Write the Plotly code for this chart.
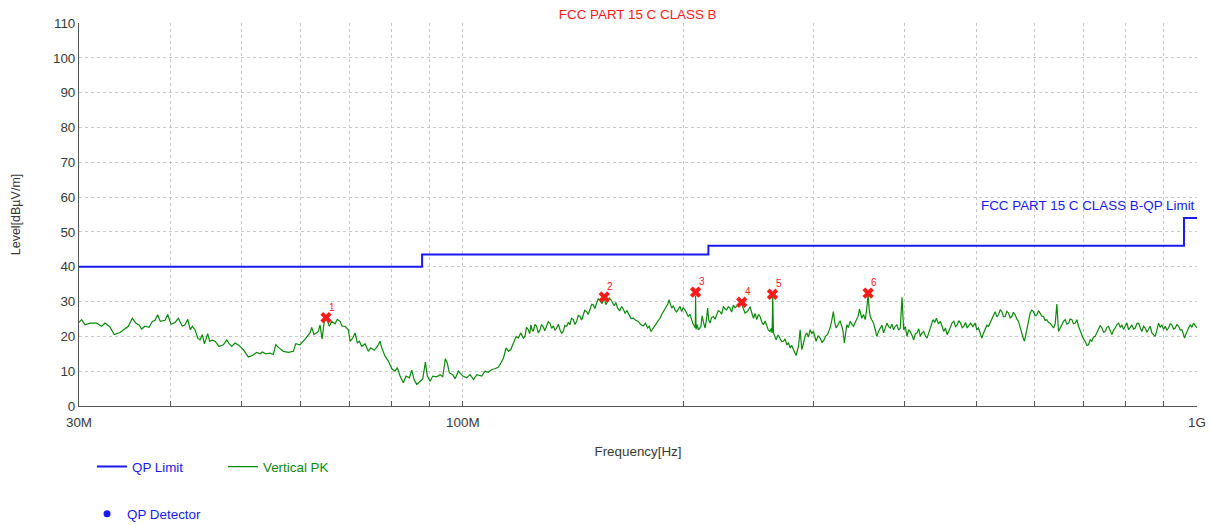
import math
import plotly.graph_objects as go

# ---------------- data ----------------
# QP limit (FCC Part 15 C, class B), step boundaries in MHz
limit_freq_mhz = [30, 88, 216, 960, 1000]
limit_level_db = [40.0, 43.5, 46.0, 54.0, 54.0]

# Vertical peak scan as (frequency MHz, level dBuV/m), one list per band
scan_30_60 = [
    (30.00, 24.0), (30.25, 24.8), (30.57, 23.3), (31.05, 23.8), (31.71, 23.8),
    (32.21, 22.9), (32.55, 23.8), (33.06, 22.7), (33.51, 20.5), (34.12, 21.1),
    (35.02, 22.9), (35.46, 25.2), (35.84, 23.8), (36.21, 23.3), (36.52, 22.1),
    (36.90, 22.9), (37.37, 22.6), (37.76, 24.3), (38.08, 24.6), (38.40, 26.2),
    (38.71, 24.3), (39.29, 24.6), (39.62, 26.3), (40.04, 23.5), (40.54, 24.0),
    (40.97, 25.2), (41.48, 22.9), (41.84, 23.3), (42.19, 24.9), (42.54, 21.9),
    (42.80, 22.9), (43.17, 21.9), (43.54, 19.5), (43.85, 19.0), (44.17, 20.5),
    (44.45, 17.9), (44.68, 19.2), (44.92, 20.8), (45.20, 18.6), (45.58, 18.9),
    (45.96, 18.6), (46.55, 17.1), (47.18, 17.6), (47.68, 19.0), (48.03, 17.9),
    (48.44, 17.1), (48.94, 18.1), (49.56, 17.4), (50.23, 16.2), (51.03, 14.1),
    (51.67, 14.5), (52.39, 15.4), (52.94, 15.0), (53.32, 15.5), (53.89, 15.0),
    (54.62, 15.2), (55.19, 14.8), (55.61, 17.6), (56.18, 16.7), (56.95, 15.7),
    (57.85, 15.4), (58.76, 15.7), (59.21, 17.9),
]

scan_60_121 = [
    (60.01, 17.6), (60.96, 19.2), (61.91, 21.0), (62.25, 22.6), (62.70, 20.5),
    (63.56, 21.4), (63.89, 23.3), (64.30, 19.2), (64.70, 23.8), (65.11, 25.5),
    (65.79, 22.9), (66.28, 24.3), (66.97, 23.6), (67.46, 24.9), (68.03, 24.3),
    (68.46, 22.9), (69.10, 22.9), (69.83, 21.9), (70.20, 18.6), (70.79, 19.5),
    (71.31, 21.0), (71.82, 18.1), (72.28, 18.6), (72.82, 17.1), (73.58, 17.9),
    (74.34, 15.7), (74.90, 16.7), (75.69, 16.0), (76.48, 17.1), (77.12, 18.6),
    (77.54, 16.7), (78.35, 14.3), (79.16, 12.9), (80.01, 10.7), (80.84, 10.0),
    (81.43, 11.0), (82.12, 8.6), (82.97, 6.7), (83.68, 8.6), (84.55, 8.1),
    (85.19, 10.3), (85.81, 7.6), (86.54, 6.2), (87.44, 7.1), (88.18, 7.8),
    (88.91, 12.6), (89.46, 8.6), (90.22, 7.1), (91.00, 8.6), (92.14, 8.4),
    (93.11, 9.0), (93.89, 8.4), (94.66, 13.6), (95.26, 12.2), (95.86, 9.5),
    (96.89, 9.0), (97.59, 7.8), (98.61, 10.0), (99.98, 8.6), (101.2, 8.1),
    (102.3, 9.0), (103.4, 7.6), (104.5, 9.0), (106.1, 8.6), (107.2, 10.0),
    (108.3, 9.7), (109.5, 10.5), (110.6, 10.7), (111.8, 11.2), (112.7, 12.4),
    (113.6, 13.8), (114.5, 16.7), (115.4, 15.7), (116.2, 16.2), (117.2, 18.1),
    (118.2, 20.0), (119.0, 19.5), (119.9, 21.0), (120.9, 19.5),
]

scan_121_245 = [
    (121.5, 20.0), (122.1, 22.6), (122.8, 21.9), (123.3, 20.8), (123.8, 23.3),
    (124.2, 22.0), (124.7, 21.4), (125.3, 23.4), (126.0, 22.9), (126.7, 21.0),
    (127.4, 21.9), (128.0, 23.4), (128.7, 22.7), (129.3, 21.6), (130.0, 22.9),
    (130.7, 24.2), (131.4, 23.8), (132.1, 22.3), (132.8, 23.0), (133.5, 21.8),
    (134.2, 22.4), (134.9, 23.5), (135.6, 21.9), (136.3, 20.9), (137.0, 21.4),
    (137.7, 23.1), (138.5, 22.9), (139.2, 24.1), (139.9, 23.3), (140.6, 25.2),
    (141.4, 24.8), (142.1, 23.4), (142.9, 24.3), (143.6, 26.0), (144.4, 25.7),
    (145.1, 24.7), (145.9, 26.2), (146.6, 27.5), (147.4, 27.1), (148.2, 26.3),
    (149.0, 27.8), (149.8, 29.2), (150.6, 29.0), (151.3, 28.0), (152.1, 29.5),
    (152.9, 30.8), (153.7, 30.3), (154.7, 29.4), (155.8, 31.0), (156.6, 29.1),
    (157.5, 30.0), (158.3, 31.0), (159.1, 30.5), (160.0, 29.4), (160.8, 28.8),
    (161.6, 29.7), (162.5, 28.1), (163.5, 27.3), (164.5, 28.6), (165.4, 27.8),
    (166.3, 26.7), (167.3, 27.4), (168.4, 26.2), (169.5, 25.1), (170.7, 25.2),
    (172.0, 24.6), (173.4, 24.3), (174.7, 23.4), (176.1, 23.0), (177.3, 23.8),
    (178.5, 22.4), (179.4, 22.9), (180.4, 21.4), (181.0, 21.8), (181.7, 22.4),
    (182.6, 22.9), (183.6, 23.8), (184.6, 24.6), (185.6, 25.2), (186.5, 26.2),
    (187.5, 27.1), (188.5, 27.8), (189.5, 28.6), (190.2, 29.3), (190.9, 30.5),
    (191.7, 29.0), (192.5, 28.1), (193.5, 28.8), (194.5, 27.6), (195.5, 27.0),
    (196.6, 28.1), (197.6, 28.6), (198.6, 27.1), (199.6, 28.2), (200.7, 27.6),
    (201.7, 26.8), (202.8, 25.7), (203.9, 26.3), (205.0, 24.3), (205.8, 23.6),
    (206.7, 22.9), (207.3, 22.5), (207.5, 31.6), (207.8, 22.0), (208.5, 23.4),
    (209.3, 21.9), (210.1, 22.3), (211.0, 22.9), (211.8, 25.9), (212.6, 24.8),
    (213.1, 23.4), (213.7, 22.4), (214.6, 24.5), (215.5, 28.1), (216.3, 24.6),
    (217.1, 23.8), (218.2, 25.4), (219.4, 25.7), (220.5, 24.9), (221.7, 26.2),
    (222.8, 27.4), (224.0, 27.1), (225.2, 26.4), (226.4, 28.6), (227.5, 27.9),
    (228.7, 27.6), (229.9, 28.5), (231.1, 28.1), (232.3, 27.0), (233.6, 29.0),
    (234.8, 28.2), (236.0, 28.6), (237.6, 29.4), (239.3, 29.7), (240.8, 28.0),
    (242.3, 26.7), (244.2, 27.2),
]

scan_246_496 = [
    (246.2, 28.5), (247.5, 26.7), (248.8, 25.2), (250.1, 26.6), (251.4, 24.8),
    (252.7, 26.3), (254.0, 25.7), (255.3, 24.2), (256.7, 23.3), (258.0, 24.4),
    (259.4, 22.9), (260.7, 21.8), (262.1, 21.4), (262.9, 22.3), (263.8, 21.0),
    (264.3, 31.5), (264.9, 21.0), (266.0, 20.2), (267.1, 19.0), (268.8, 20.4),
    (270.5, 19.5), (271.9, 18.5), (273.3, 18.6), (274.7, 19.3), (276.2, 17.6),
    (277.6, 18.1), (279.1, 16.7), (280.5, 17.4), (282.0, 16.2), (283.2, 15.4),
    (284.4, 14.5), (285.4, 15.8), (286.5, 17.1), (288.0, 21.9), (288.7, 19.0),
    (289.5, 16.2), (290.5, 17.3), (291.6, 18.6), (292.8, 20.4), (294.1, 21.0),
    (295.6, 19.8), (297.2, 21.9), (298.7, 20.8), (300.3, 21.4), (301.5, 20.2),
    (302.8, 18.6), (304.7, 20.2), (306.6, 19.5), (308.5, 18.3), (310.5, 19.0),
    (312.1, 20.1), (313.8, 20.5), (315.1, 21.5), (316.4, 22.4), (318.0, 24.5),
    (319.7, 27.1), (321.0, 24.0), (322.4, 22.4), (323.6, 23.0), (324.8, 23.8),
    (326.5, 24.5), (328.2, 22.9), (329.5, 21.5), (330.9, 18.1), (332.1, 21.0),
    (333.4, 23.3), (335.1, 22.5), (336.9, 24.3), (338.7, 23.5), (340.5, 22.9),
    (342.3, 24.0), (344.1, 24.8), (345.5, 25.8), (346.9, 27.8), (348.2, 26.0),
    (349.5, 25.2), (351.3, 26.3), (353.2, 24.8), (354.5, 27.0), (355.8, 31.0),
    (356.5, 32.0), (357.6, 28.0), (358.8, 25.7), (360.7, 24.7), (362.6, 23.8),
    (364.5, 21.9), (366.4, 20.0), (368.3, 21.5), (370.3, 22.4), (372.2, 23.2),
    (374.2, 21.0), (376.1, 22.5), (378.1, 23.8), (380.1, 22.8), (382.1, 22.4),
    (384.1, 23.5), (386.1, 21.9), (388.1, 22.9), (390.2, 23.3), (392.2, 21.8),
    (394.3, 22.4), (396.4, 31.2), (398.5, 21.9), (400.6, 22.8), (402.7, 20.0),
    (404.8, 21.9), (406.9, 21.4), (409.0, 20.3), (411.2, 19.0), (413.4, 20.8),
    (415.6, 21.0), (417.7, 22.2), (419.9, 20.0), (422.1, 21.0), (424.4, 21.4),
    (426.6, 20.1), (428.9, 19.5), (431.1, 21.0), (433.4, 22.4), (435.2, 23.6),
    (437.0, 24.8), (439.3, 24.0), (441.6, 25.2), (444.4, 23.6), (447.2, 24.3),
    (449.5, 22.9), (451.9, 21.4), (454.3, 22.4), (456.7, 20.5), (459.1, 21.5),
    (461.5, 22.9), (463.9, 23.9), (466.4, 24.3), (468.8, 22.8), (471.3, 23.3),
    (473.8, 24.5), (476.3, 23.8), (478.8, 22.5), (481.3, 22.9), (483.8, 24.0),
    (486.4, 22.4), (488.9, 23.3), (491.5, 23.8), (495.1, 22.8),
]

scan_499_1000 = [
    (498.7, 23.8), (501.3, 21.9), (503.9, 22.4), (506.5, 21.0), (509.2, 19.5),
    (511.9, 20.9), (514.6, 21.9), (517.3, 23.2), (520.0, 22.9), (522.7, 24.0),
    (525.5, 24.8), (528.2, 25.9), (531.0, 27.1), (533.8, 25.6), (536.6, 26.2),
    (539.4, 27.6), (542.2, 27.1), (545.0, 25.6), (547.9, 25.7), (550.8, 27.2),
    (553.7, 26.7), (556.5, 25.3), (559.4, 25.7), (562.3, 26.9), (565.3, 26.2),
    (568.3, 25.0), (571.3, 24.3), (574.3, 22.6), (577.3, 20.5), (579.7, 19.5),
    (582.1, 18.6), (584.2, 20.3), (586.4, 21.9), (589.5, 24.8), (592.6, 26.7),
    (595.7, 27.5), (598.8, 27.1), (602.0, 25.9), (605.2, 26.2), (608.3, 27.4),
    (611.5, 26.7), (614.7, 25.8), (617.9, 25.7), (621.1, 24.6), (624.4, 24.8),
    (627.7, 24.0), (631.0, 23.8), (634.3, 22.9), (637.6, 22.4), (641.0, 23.6),
    (644.3, 29.3), (647.7, 21.4), (651.1, 22.5), (654.5, 23.3), (657.9, 24.3),
    (661.4, 24.8), (664.9, 23.5), (668.4, 23.8), (671.9, 25.0), (675.4, 24.8),
    (678.9, 23.6), (682.5, 23.8), (686.0, 24.8), (689.6, 22.9), (693.2, 21.6),
    (696.9, 20.5), (700.5, 19.2), (704.2, 18.6), (707.9, 17.4), (711.6, 17.6),
    (715.3, 19.0), (719.1, 18.6), (722.9, 19.8), (726.7, 20.0), (730.5, 21.0),
    (734.3, 21.9), (738.2, 23.1), (742.1, 22.4), (746.0, 21.2), (749.9, 21.4),
    (753.8, 22.6), (757.7, 22.9), (761.7, 21.6), (765.7, 20.5), (769.7, 21.8),
    (773.7, 22.4), (777.8, 23.4), (781.9, 23.8), (786.0, 22.6), (790.1, 23.3),
    (794.2, 22.0), (798.4, 22.9), (802.6, 23.9), (806.8, 21.9), (811.0, 22.6),
    (815.3, 23.3), (819.5, 22.1), (823.8, 22.4), (828.1, 23.6), (832.5, 23.8),
    (836.9, 22.5), (841.3, 21.4), (845.7, 22.9), (850.1, 22.4), (854.5, 21.2),
    (859.0, 21.9), (863.5, 22.9), (868.0, 21.0), (872.6, 20.6), (877.2, 20.0),
    (881.8, 21.8), (886.4, 23.8), (891.0, 22.6), (895.7, 23.3), (900.4, 22.0),
    (905.1, 22.9), (909.8, 21.8), (914.6, 22.4), (919.4, 23.6), (924.2, 23.3),
    (929.1, 22.1), (934.0, 22.4), (938.9, 23.4), (943.8, 22.9), (948.7, 21.8),
    (953.7, 21.9), (957.7, 20.8), (961.7, 19.5), (965.2, 20.5), (968.8, 21.4),
    (973.9, 22.4), (979.0, 23.3), (984.1, 22.6), (989.3, 23.8), (994.5, 23.0),
    (1000.0, 22.4),
]

# QP detector readings
qp_freq_mhz = [65.1, 155.8, 207.5, 239.8, 264.1, 356.5]
qp_level_db = [25.4, 31.3, 32.7, 29.8, 32.1, 32.4]
qp_labels = ["1", "2", "3", "4", "5", "6"]

# x-axis ticks (grid at every decade step, labels at 30M / 100M / 1G)
x_tick_vals = [30, 40, 50, 60, 70, 80, 90, 100, 200, 300, 400, 500,
               600, 700, 800, 900, 1000]
x_tick_text = ["30M", "", "", "", "", "", "", "100M", "", "", "", "",
               "", "", "", "", "1G"]

scan = scan_30_60 + scan_60_121 + scan_121_245 + scan_246_496 + scan_499_1000
scan_freq_mhz = [f for f, _ in scan]
scan_level_db = [v for _, v in scan]

# ---------------- figure ----------------
FONT = "Liberation Sans, Arial, sans-serif"
BLUE = "#1a1aef"
GREEN = "#0a8a0a"
RED = "#ff1a1a"
TXT = "#3a3a3a"

fig = go.Figure()

fig.add_trace(go.Scatter(
    x=limit_freq_mhz, y=limit_level_db, mode="lines",
    line=dict(color=BLUE, width=2, shape="hv"),
    name=f"<span style='color:{BLUE}'>QP Limit</span>",
    legend="legend",
))

fig.add_trace(go.Scatter(
    x=scan_freq_mhz, y=scan_level_db, mode="lines",
    line=dict(color=GREEN, width=1.2),
    name=f"<span style='color:{GREEN}'>Vertical PK</span>",
    legend="legend",
))

fig.add_trace(go.Scatter(
    x=qp_freq_mhz, y=qp_level_db, mode="markers",
    marker=dict(symbol="x", size=10, color=RED),
    showlegend=False,
))

# legend-only entry for the detector
fig.add_trace(go.Scatter(
    x=[None], y=[None], mode="markers",
    marker=dict(symbol="circle", size=7, color=BLUE),
    name="QP Detector",
    legend="legend2",
))

# numbered labels next to the detector marks (log axis -> log10 position)
for f, lv, lab in zip(qp_freq_mhz, qp_level_db, qp_labels):
    fig.add_annotation(
        x=math.log10(f), y=lv, xref="x", yref="y", text=lab, showarrow=False,
        xanchor="left", yanchor="bottom", xshift=1, yshift=3,
        font=dict(family=FONT, size=10, color=RED),
    )

fig.add_annotation(
    x=1.0, y=57.5, xref="paper", yref="y",
    text="FCC PART 15 C CLASS B-QP Limit", showarrow=False,
    xanchor="right", yanchor="middle",
    font=dict(family=FONT, size=13.4, color=BLUE),
)

fig.update_layout(
    width=1210, height=525,
    margin=dict(l=79, r=13, t=23, b=119, autoexpand=False),
    paper_bgcolor="white", plot_bgcolor="white",
    font=dict(family=FONT, size=13.4, color=TXT),
    title=dict(
        text="FCC PART 15 C CLASS B", x=0.527, xanchor="center",
        y=0.973, yanchor="middle",
        font=dict(family=FONT, size=13.4, color=RED),
    ),
    legend=dict(
        orientation="h", x=0.0116, y=-0.159, xanchor="left", yanchor="middle",
        entrywidth=86, entrywidthmode="pixels",
        font=dict(family=FONT, size=13.4, color=BLUE),
        bgcolor="rgba(0,0,0,0)",
    ),
    legend2=dict(
        orientation="h", x=0.0072, y=-0.282, xanchor="left", yanchor="middle",
        font=dict(family=FONT, size=13.4, color=BLUE),
        bgcolor="rgba(0,0,0,0)",
    ),
    showlegend=True,
)

fig.update_xaxes(
    type="log", range=[math.log10(30), 3.0], automargin=False,
    tickmode="array", tickvals=x_tick_vals, ticktext=x_tick_text,
    ticks="inside", ticklen=5, tickcolor="#555555", ticklabelstandoff=4,
    showgrid=True, gridcolor="#c8c8c8", griddash="dot", gridwidth=1,
    showline=True, linecolor="#555555", linewidth=1,
    zeroline=False,
    tickfont=dict(family=FONT, size=13.4, color=TXT),
    title=dict(text="Frequency[Hz]", standoff=17,
               font=dict(family=FONT, size=13.4, color=TXT)),
)

fig.update_yaxes(
    range=[0, 110], tickmode="linear", tick0=0, dtick=10, automargin=False,
    showgrid=True, gridcolor="#c8c8c8", griddash="dot", gridwidth=1,
    showline=True, linecolor="#555555", linewidth=1,
    zeroline=False, ticks="",
    tickfont=dict(family=FONT, size=13.4, color=TXT),
    title=dict(text="Level[dBµV/m]", standoff=29,
               font=dict(family=FONT, size=12.5, color=TXT)),
)

fig.write_html("out.html")
